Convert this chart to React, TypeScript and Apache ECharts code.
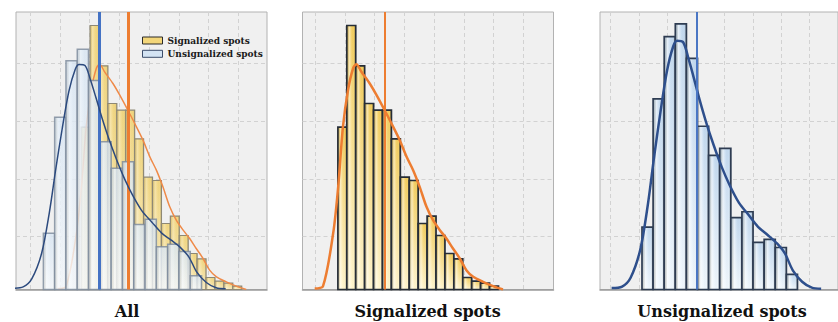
import React, { useEffect, useRef } from 'react';
import * as echarts from 'echarts';

// ---- data ----
const SIGNALIZED_EDGES = [27.5, 30.5, 33.5, 36.5, 39.5, 42.5, 45.5, 48.5, 51.5, 54.5, 57.5, 60.5, 63.5, 66.5, 69.5, 72.5, 75.5, 78.5, 81.5];
const SIGNALIZED_VALUES = [48.7, 79.2, 67.1, 55.8, 53.8, 53.8, 45.2, 33.7, 32.7, 19.8, 22.0, 16.2, 10.8, 9.2, 3.6, 2.5, 1.9, 1.0];
const UNSIGNALIZED_EDGES = [14.8, 18.6, 22.4, 26.2, 30.0, 33.8, 37.6, 41.4, 45.2, 49.0, 52.8, 56.6, 60.4, 64.2, 68.0];
const UNSIGNALIZED_VALUES = [16.9, 51.7, 68.6, 72.1, 62.7, 44.3, 36.4, 38.3, 19.5, 21.1, 12.8, 13.6, 11.4, 4.1];

const SIGNALIZED_KDE_X = [19.7, 22.5, 25.9, 27.6, 29.2, 30.9, 32.6, 33.7, 35.4, 38.2, 40.5, 43.8, 46.1, 48.3, 50.6, 52.8, 55.0, 57.3, 59.5, 61.8, 64.0, 66.2, 68.5, 70.7, 73.0, 76.3, 79.7, 83.0];
const SIGNALIZED_KDE_Y = [0.3, 1.0, 16.8, 30.8, 48.8, 59.8, 66.3, 67.6, 65.3, 61.8, 58.3, 52.8, 48.8, 44.8, 39.8, 35.8, 30.8, 24.8, 20.8, 17.8, 15.3, 12.3, 9.3, 5.8, 3.8, 2.3, 1.0, 0.0];
const UNSIGNALIZED_KDE_X = [4.4, 8.0, 10.9, 14.2, 16.8, 19.0, 21.2, 23.4, 25.5, 26.8, 28.8, 30.6, 32.5, 34.5, 36.7, 39.4, 42.1, 44.8, 48.0, 51.3, 54.5, 57.8, 61.0, 63.7, 66.4, 69.6, 72.9, 76.1];
const UNSIGNALIZED_KDE_Y = [0.4, 0.8, 3.2, 10.8, 23.0, 36.3, 48.6, 59.5, 66.0, 67.5, 67.2, 63.0, 57.5, 51.5, 45.5, 39.0, 33.2, 28.3, 23.5, 20.2, 17.0, 14.8, 12.5, 9.8, 5.2, 2.1, 0.5, 0.2];

const SIGNALIZED_MEAN = 43.2;
const UNSIGNALIZED_MEAN = 33.7;

const SERIES_NAMES = ['Signalized spots', 'Unsignalized spots'];
const PANEL_TITLES = ['All', 'Signalized spots', 'Unsignalized spots'];

// axis ranges for the three panels
const PANEL_X_MIN = [5.6, 15.6, 0.43];
const PANEL_X_MAX = [90, 100, 81.87];
const PANEL_Y_MAX = [83.25, 83.25, 75.3];

// ---- layout ----
const PANEL_LEFT = [16, 302.5, 600];
const PANEL_TOP = 12;
const PANEL_W = 251;
const PANEL_H = 277.5;
const VGRID_LEFT = [0.25, 285.25, 582.34];
const VGRID_W = [267.75, 267.75, 269.64];
const HGRID_TOP = 5.5;
const HGRID_H = 289;
const TITLE_X = [127, 427.5, 722];
const TITLE_Y = 311;

const histData = (edges: number[], values: number[]) => values.map((v, i) => [edges[i], edges[i + 1], v]);
const kdeData = (xs: number[], ys: number[]) => xs.map((x, i) => [x, ys[i]]);

type BarStyle = { top: string; bottom: string; stroke: string; lineWidth: number; opacity: number; hl: number; shade: number };

const makeRenderItem = (st: BarStyle) => (params: any, api: any) => {
  const x0 = api.value(0);
  const x1 = api.value(1);
  const v = api.value(2);
  const a = api.coord([x0, v]);
  const b = api.coord([x1, 0]);
  const shape = { x: a[0], y: a[1], width: b[0] - a[0], height: b[1] - a[1] };
  return {
    type: 'group',
    children: [
      {
        type: 'rect',
        shape,
        style: {
          fill: new echarts.graphic.LinearGradient(0, 0, 0, 1, [
            { offset: 0, color: st.top },
            { offset: 1, color: st.bottom },
          ]),
          opacity: st.opacity,
        },
      },
      {
        type: 'rect',
        shape,
        style: {
          fill: new echarts.graphic.LinearGradient(0, 0, 1, 0, [
            { offset: 0, color: `rgba(60,50,20,${st.shade * 0.5})` },
            { offset: 0.28, color: `rgba(255,255,255,${st.hl})` },
            { offset: 0.55, color: 'rgba(255,255,255,0.05)' },
            { offset: 0.8, color: 'rgba(0,0,0,0)' },
            { offset: 1, color: `rgba(60,50,20,${st.shade})` },
          ]),
          stroke: st.stroke,
          lineWidth: st.lineWidth,
          opacity: st.opacity,
        },
      },
    ],
  };
};

const YELLOW_STRONG: BarStyle = { top: '#f2cd5e', bottom: '#fff5cf', stroke: '#262d37', lineWidth: 1.7, opacity: 1, hl: 0.5, shade: 0.28 };
const BLUE_STRONG: BarStyle = { top: '#c3d9ef', bottom: '#f0f7fd', stroke: '#2e3c52', lineWidth: 1.7, opacity: 1, hl: 0.6, shade: 0.22 };
const YELLOW_SOFT: BarStyle = { top: '#f1d680', bottom: '#f9edc4', stroke: '#8e8874', lineWidth: 1.2, opacity: 1, hl: 0.3, shade: 0.12 };
const BLUE_SOFT: BarStyle = { top: '#d9e7f5', bottom: '#f4f8fc', stroke: '#7b889a', lineWidth: 1.5, opacity: 0.8, hl: 0.4, shade: 0.1 };

export default function App() {
  const ref = useRef<HTMLDivElement>(null);
  useEffect(() => {
    if (!ref.current) return;
    const chart = echarts.init(ref.current, undefined, { renderer: 'svg' });

    const grids: any[] = [];
    const xAxes: any[] = [];
    const yAxes: any[] = [];
    for (let p = 0; p < 3; p++) {
      grids.push({
        left: PANEL_LEFT[p], top: PANEL_TOP, width: PANEL_W, height: PANEL_H,
        show: true, backgroundColor: '#f0f0f0', borderColor: '#b2b2b2', borderWidth: 1, z: 0,
      });
      xAxes.push({
        gridIndex: p, type: 'value', min: PANEL_X_MIN[p], max: PANEL_X_MAX[p], z: 1,
        axisLine: { show: true, lineStyle: { color: '#9a9a9a', width: 1.5 } },
        axisTick: { show: false }, axisLabel: { show: false }, splitLine: { show: false },
      });
      yAxes.push({ gridIndex: p, type: 'value', min: 0, max: PANEL_Y_MAX[p], show: false });
    }
    const gridLineStyle = { color: '#d2d2d2', width: 1, type: [4, 3] };
    for (let p = 0; p < 3; p++) {
      // vertical grid lines
      grids.push({ left: VGRID_LEFT[p], top: PANEL_TOP, width: VGRID_W[p], height: PANEL_H, show: false });
      xAxes.push({
        gridIndex: 3 + 2 * p, type: 'value', min: 0, max: 9, interval: 1, z: 1,
        axisLine: { show: false }, axisTick: { show: false }, axisLabel: { show: false },
        splitLine: { show: true, showMinLine: false, showMaxLine: false, lineStyle: gridLineStyle },
      });
      yAxes.push({ gridIndex: 3 + 2 * p, type: 'value', min: 0, max: 1, show: false });
      // horizontal grid lines
      grids.push({ left: PANEL_LEFT[p], top: HGRID_TOP, width: PANEL_W, height: HGRID_H, show: false });
      xAxes.push({ gridIndex: 4 + 2 * p, type: 'value', min: 0, max: 1, show: false });
      yAxes.push({
        gridIndex: 4 + 2 * p, type: 'value', min: 0, max: 5, interval: 1, z: 1,
        axisLine: { show: false }, axisTick: { show: false }, axisLabel: { show: false },
        splitLine: { show: true, showMinLine: false, showMaxLine: false, lineStyle: gridLineStyle },
      });
    }

    const sigHist = histData(SIGNALIZED_EDGES, SIGNALIZED_VALUES);
    const unsHist = histData(UNSIGNALIZED_EDGES, UNSIGNALIZED_VALUES);
    const sigKde = kdeData(SIGNALIZED_KDE_X, SIGNALIZED_KDE_Y);
    const unsKde = kdeData(UNSIGNALIZED_KDE_X, UNSIGNALIZED_KDE_Y);

    const bars = (p: number, name: string, data: any[], st: BarStyle, z: number, legendColor: string, legendBorder: string) => ({
      type: 'custom', name, xAxisIndex: p, yAxisIndex: p, z,
      renderItem: makeRenderItem(st),
      encode: { x: [0, 1], y: 2 },
      itemStyle: { color: legendColor, borderColor: legendBorder },
      data, silent: true,
    });
    const kde = (p: number, name: string, data: any[], color: string, width: number, z: number, mean: number, meanColor: string, meanWidth: number) => ({
      type: 'line', name, xAxisIndex: p, yAxisIndex: p, z, data,
      smooth: 0.3, showSymbol: false, symbol: 'none', silent: true,
      lineStyle: { color, width },
      itemStyle: { color },
      markLine: {
        silent: true, symbol: 'none', label: { show: false },
        lineStyle: { color: meanColor, width: meanWidth, type: 'solid' },
        data: [{ xAxis: mean }],
      },
    });

    const series: any[] = [
      bars(0, SERIES_NAMES[0], sigHist, YELLOW_SOFT, 2, '#f3d77a', '#333'),
      kde(0, SERIES_NAMES[0], sigKde, '#ef8a48', 1.5, 3, SIGNALIZED_MEAN, '#ed7d31', 3),
      bars(0, SERIES_NAMES[1], unsHist, BLUE_SOFT, 4, '#d6e6f6', '#3b4d6b'),
      kde(0, SERIES_NAMES[1], unsKde, '#2c4a7e', 1.5, 5, UNSIGNALIZED_MEAN, '#4472c4', 3),
      bars(1, SERIES_NAMES[0], sigHist, YELLOW_STRONG, 2, '#f3d77a', '#333'),
      kde(1, SERIES_NAMES[0], sigKde, '#ed7d31', 2.5, 3, SIGNALIZED_MEAN, '#ed7d31', 2),
      bars(2, SERIES_NAMES[1], unsHist, BLUE_STRONG, 2, '#d6e6f6', '#3b4d6b'),
      kde(2, SERIES_NAMES[1], unsKde, '#2e4f8c', 2.5, 3, UNSIGNALIZED_MEAN, '#4a76c4', 2),
    ];

    chart.setOption({
      animation: false,
      grid: grids,
      xAxis: xAxes,
      yAxis: yAxes,
      legend: {
        left: 142, top: 35, padding: 0, orient: 'vertical', itemGap: 2.3,
        itemWidth: 20, itemHeight: 7, selectedMode: false,
        textStyle: { fontFamily: 'DejaVu Serif', fontWeight: 'bold', fontSize: 9, lineHeight: 11, color: '#1a1a1a' },
        data: [
          { name: SERIES_NAMES[0], icon: 'rect', itemStyle: { color: '#f3d67a', borderColor: '#2b2b2b', borderWidth: 1 } },
          { name: SERIES_NAMES[1], icon: 'rect', itemStyle: { color: '#d3e3f3', borderColor: '#3b4d6b', borderWidth: 1 } },
        ],
      },
      graphic: PANEL_TITLES.map((t, i) => ({
        type: 'text', x: TITLE_X[i], y: TITLE_Y, silent: true,
        style: {
          text: t, fill: '#111', textAlign: 'center', textVerticalAlign: 'middle',
          font: 'bold 16px "DejaVu Serif"',
        },
      })),
      series,
    });
    return () => chart.dispose();
  }, []);
  return <div ref={ref} style={{ position: 'absolute', left: 0, top: 0, width: 838, height: 322 }} />;
}
